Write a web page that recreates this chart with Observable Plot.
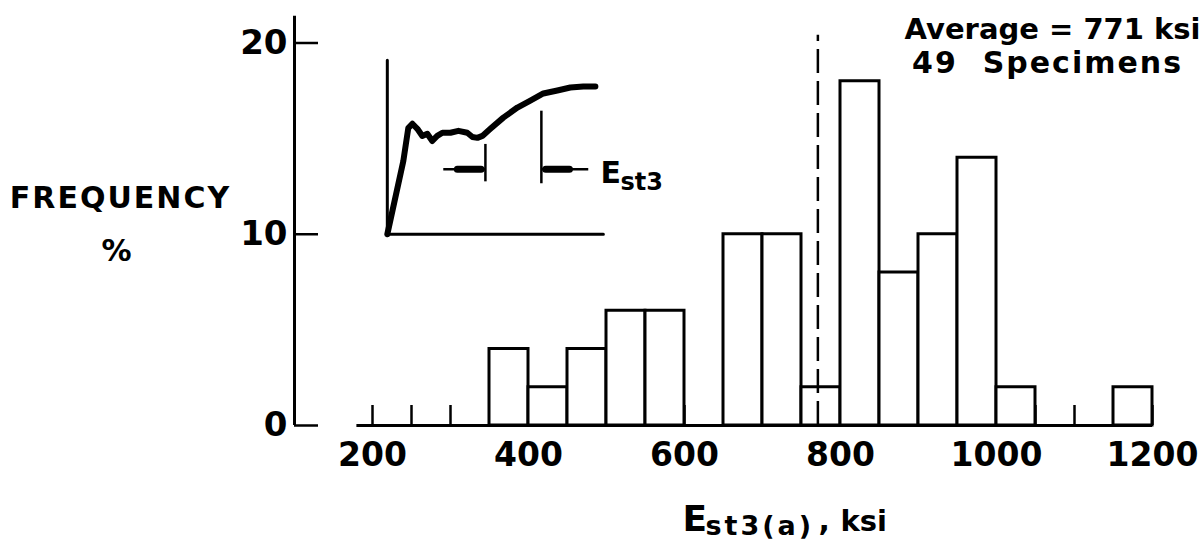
<!DOCTYPE html>
<html>
<head>
<meta charset="utf-8">
<script src="https://cdn.jsdelivr.net/npm/d3@7"></script>
<script src="https://cdn.jsdelivr.net/npm/@observablehq/plot@0.6"></script>
<style>
  body { margin: 0; background: #fff; }
  #chart svg { display: block; }
</style>
</head>
<body>
<div id="chart"></div>
<script>
// Histogram of E_st3(a): bin starts (ksi), bin width and frequency (%)
const binStart = [350, 400, 450, 500, 550, 600, 650, 700, 750, 800, 850, 900, 950, 1000, 1050, 1100, 1150];
const binWidth = 50;
const frequency = [4, 2, 4, 6, 6, 0, 10, 10, 2, 18, 8, 10, 14, 2, 0, 0, 2];

// Axis ticks
const xTickLabels = [200, 400, 600, 800, 1000, 1200];
const xMinorTicks = [200, 250, 300, 350, 400, 450, 500, 550, 600, 650, 700, 750, 800, 850, 900, 950, 1000, 1050, 1100, 1150, 1200];
const yTickLabels = [0, 10, 20];

// Summary
const averageKsi = 771;
const specimenCount = 49;

// Inset sketch: stress-strain curve in its own 0-100 units
const insetStrain = [0, 7.4, 9.7, 11.6, 13.9, 16.2, 18.5, 20.8, 23.1, 25.5, 29.2, 32.9, 37, 39.4, 41.7, 44, 47.7, 53.7, 60.2, 66.2, 72.2, 78.7, 84.7, 90.7, 96.3];
const insetStress = [0, 42, 61, 63.5, 60.6, 56.5, 57.7, 53.6, 56.5, 58.3, 58.3, 59.4, 58.3, 55.9, 55.4, 56.5, 60.6, 67, 72.8, 76.8, 80.9, 82.6, 84.3, 84.9, 84.9];
const insetAxisStrain = [0, 0, 100];
const insetAxisStress = [100, 0, 0];
// strain-hardening interval markers (strain, low stress, high stress) and arrow tails
const insetMarkStrain = [45.4, 71.3];
const insetMarkLow = [30.4, 29.3];
const insetMarkHigh = [51.9, 71];
const insetArrowTail = [25.9, 93];
const insetArrowStress = 37.4;

// layout
const W = 1203, H = 542;
const mL = 294, mR = 51, mT = 42.5, mB = 117;
const FONT = "DejaVu Sans";

// the inset occupies this box in chart units (ksi, %)
const insetBox = {x0: 219, x1: 496, y0: 10, y1: 19.1};
const ix = u => insetBox.x0 + u / 100 * (insetBox.x1 - insetBox.x0);
const iy = v => insetBox.y0 + v / 100 * (insetBox.y1 - insetBox.y0);

const bins = binStart
  .map((x, i) => ({x1: x, x2: x + binWidth, freq: frequency[i]}))
  .filter(d => d.freq > 0);

const curve = insetStrain.map((u, i) => ({x: ix(u), y: iy(insetStress[i])}));
const insetAxes = insetAxisStrain.map((u, i) => ({x: ix(u), y: iy(insetAxisStress[i])}));
const markers = insetMarkStrain.map((u, i) => {
  const s = insetArrowTail[i] > u ? 1 : -1;
  return {
    x: u, y1: insetMarkLow[i], y2: insetMarkHigh[i],
    tail: insetArrowTail[i],
    headA: u + s * 2, headB: u + s * 13
  };
});
const arrowY = iy(insetArrowStress);

// free text placed relative to the frame's top-left corner
function label(text, px, py, o = {}) {
  return Plot.text([text], {
    text: d => d, frameAnchor: "top-left",
    dx: px - mL, dy: py - mT,
    lineAnchor: "bottom", textAnchor: "start",
    fontFamily: FONT, fontWeight: "bold", fill: "black", ...o
  });
}

const subscript = "st3(a)";
const specimensText = `${specimenCount}  Specimens`;

const chart = Plot.plot({
  width: W, height: H,
  marginLeft: mL, marginRight: mR, marginTop: mT, marginBottom: mB,
  x: {domain: [100, 1200]},
  y: {domain: [0, 20]},
  style: {fontFamily: FONT, fontWeight: "bold", background: "white", color: "black"},
  marks: [
    // minor ticks every 50 ksi, pointing up
    Plot.axisX({ticks: xMinorTicks, tickSize: -20, tickFormat: () => "", strokeWidth: 2.5, label: null}),
    Plot.axisX({ticks: xTickLabels, tickSize: 0, tickPadding: 17, fontSize: 33, tickFormat: d => String(d), label: null}),
    // histogram bars
    Plot.rectY(bins, {x1: "x1", x2: "x2", y: "freq", fill: "white", stroke: "black", strokeWidth: 3}),
    // x baseline
    Plot.ruleY([0], {x1: 180, x2: 1200, strokeWidth: 3}),
    // average line
    Plot.ruleX([averageKsi], {y1: 0, y2: 20.4, strokeWidth: 2.5, strokeDasharray: "24,8"}),
    // y axis
    Plot.ruleX([100], {y1: 0, y2: 21.4, strokeWidth: 3}),
    Plot.axisY({ticks: yTickLabels, tickSize: -24, tickFormat: () => "", strokeWidth: 2.5, label: null}),
    Plot.axisY({ticks: yTickLabels, tickSize: 0, tickPadding: 7, fontSize: 34, label: null}),
    // inset sketch
    Plot.line(insetAxes, {x: "x", y: "y", strokeWidth: 3}),
    Plot.line(curve, {x: "x", y: "y", strokeWidth: 6, strokeLinejoin: "round", strokeLinecap: "round"}),
    Plot.link(markers, {x1: d => ix(d.x), x2: d => ix(d.x), y1: d => iy(d.y1), y2: d => iy(d.y2), strokeWidth: 2.5}),
    Plot.link(markers, {x1: d => ix(d.tail), x2: d => ix(d.x), y1: () => arrowY, y2: () => arrowY, strokeWidth: 2.5}),
    Plot.link(markers, {x1: d => ix(d.headA), x2: d => ix(d.headB), y1: () => arrowY, y2: () => arrowY, strokeWidth: 7, strokeLinecap: "round"}),
    label("E", 600, 182, {fontSize: 30}),
    label("st3", 620, 189, {fontSize: 24}),
    // titles
    label("FREQUENCY", 120, 207, {fontSize: 30, textAnchor: "middle"}),
    label("%", 116, 260, {fontSize: 30, textAnchor: "middle"}),
    label(`Average = ${averageKsi} ksi`, 1200, 38, {fontSize: 29, textAnchor: "end"}),
    label(specimensText, 1047, 72, {fontSize: 30, textAnchor: "middle"}),
    label("E", 682, 530, {fontSize: 36}),
    label(subscript, 705, 534, {fontSize: 27}),
    label(",", 818, 530, {fontSize: 30}),
    label("ksi", 840, 530, {fontSize: 29})
  ]
});

// wider letter spacing for the hand-lettered labels
const spacing = new Map([[subscript, 3], [specimensText, 2], ["FREQUENCY", 2]]);
d3.select(chart).selectAll("text").each(function () {
  const s = spacing.get(this.textContent);
  if (s) this.setAttribute("letter-spacing", s);
});

document.getElementById("chart").appendChild(chart);
</script>
</body>
</html>
